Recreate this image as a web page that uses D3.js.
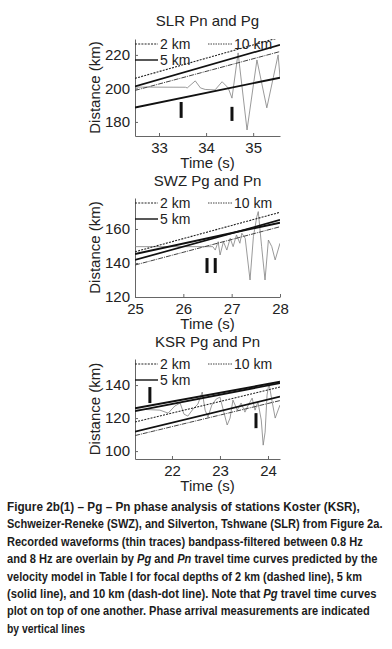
<!DOCTYPE html>
<html>
<head>
<meta charset="utf-8">
<script src="https://cdn.jsdelivr.net/npm/d3@7"></script>
<style>
  body { margin: 0; background: #fff; }
  svg { display: block; }
</style>
</head>
<body>
<div id="chart"></div>
<script>
// ---------- data ----------
// SLR
const slrXTicks = [33, 34, 35];
const slrYTicks = [180, 200, 220];
const slrXDomain = [32.49, 35.57];
const slrYDomain = [171.6, 229.5];
const slrTrace = [
  [32.49, 200.8], [33.56, 200.7], [33.60, 200.3], [33.77, 204.5], [33.88, 200.3],
  [33.98, 199.4], [34.19, 199.1], [34.34, 204.0], [34.47, 200.3], [34.55, 194.2],
  [34.68, 221.2], [34.87, 175.2], [35.08, 217.0], [35.29, 188.4], [35.53, 220.0],
  [35.57, 206.8]
];
const slrPn2 = [[32.49, 206.0], [35.57, 230.5]];
const slrPn5 = [[32.49, 201.2], [35.57, 226.0]];
const slrPn10 = [[32.49, 198.8], [35.57, 222.0]];
const slrPg = [[32.49, 188.6], [35.57, 206.4]];
const slrPicks = [[33.47, 182.4, 191.9], [34.55, 180.6, 189.0]];

// SWZ
const swzXTicks = [25, 26, 27, 28];
const swzYTicks = [120, 140, 160];
const swzXDomain = [25, 28];
const swzYDomain = [120, 178.2];
const swzTrace = [
  [25.00, 149.6], [26.61, 149.6], [26.66, 147.6], [26.72, 152.5], [26.76, 144.7],
  [26.83, 152.5], [26.90, 147.6], [26.97, 154.5], [27.03, 149.6], [27.10, 156.5],
  [27.17, 151.6], [27.21, 157.5], [27.28, 154.5], [27.38, 130.0], [27.45, 155.5],
  [27.52, 167.2], [27.55, 170.2], [27.62, 149.6], [27.69, 130.0], [27.76, 153.5],
  [27.83, 149.6], [27.90, 141.8], [28.00, 151.6]
];
const swzPn2 = [[25, 146.6], [28, 169.8]];
const swzPn5 = [[25, 141.8], [28, 165.3]];
const swzPn10 = [[25, 138.8], [28, 161.3]];
const swzPg = [[25, 145.3], [28, 163.7]];
const swzPicks = [[26.49, 134.1, 142.9], [26.66, 134.1, 142.9]];

// KSR
const ksrXTicks = [22, 23, 24];
const ksrYTicks = [100, 120, 140];
const ksrXDomain = [21.23, 24.25];
const ksrYDomain = [95.2, 155.8];
const ksrTrace = [
  [21.23, 125.5], [21.75, 124.8], [21.92, 123.0], [22.06, 127.3], [22.17, 129.1],
  [22.25, 122.4], [22.33, 121.2], [22.44, 125.5], [22.54, 128.5], [22.63, 135.8],
  [22.69, 124.8], [22.75, 120.6], [22.83, 127.9], [22.92, 131.5], [23.00, 132.7],
  [23.08, 123.6], [23.15, 115.8], [23.21, 120.0], [23.27, 130.9], [23.36, 124.8],
  [23.44, 129.1], [23.52, 123.6], [23.58, 127.3], [23.67, 132.1], [23.73, 124.8],
  [23.79, 129.7], [23.86, 118.8], [23.90, 103.6], [23.94, 111.5], [23.98, 133.9],
  [24.02, 141.2], [24.08, 130.9], [24.15, 120.0], [24.21, 124.8], [24.25, 127.9]
];
const ksrPn2 = [[21.23, 117.6], [24.25, 138.8]];
const ksrPn5 = [[21.23, 111.8], [24.25, 133.0]];
const ksrPn10 = [[21.23, 109.4], [24.25, 130.6]];
const ksrPg = [[21.23, 125.9], [24.25, 142.0]];
const ksrPg5 = [[21.23, 124.2], [24.25, 141.2]];
const ksrPicks = [[21.54, 129.1, 138.8], [23.75, 113.9, 123.0]];

const legendLabels = ["2 km", "5 km", "10 km"];

const captionLines = [
  [["Figure 2b(1) – Pg – Pn phase analysis of stations Koster (KSR),", false]],
  [["Schweizer-Reneke (SWZ), and Silverton, Tshwane (SLR) from Figure 2a.", false]],
  [["Recorded waveforms (thin traces) bandpass-filtered between 0.8 Hz", false]],
  [["and 8 Hz are overlain by ", false], ["Pg", true], [" and ", false], ["Pn", true],
   [" travel time curves predicted by the", false]],
  [["velocity model in Table I for focal depths of 2 km (dashed line), 5 km", false]],
  [["(solid line), and 10 km (dash-dot line). Note that ", false], ["Pg", true],
   [" travel time curves", false]],
  [["plot on top of one another. Phase arrival measurements are indicated", false]],
  [["by vertical lines", false]]
];

// ---------- layout ----------
const W = 392, H = 649;
const plotLeft = 135, plotRight = 280;
const font = "'Liberation Sans', Arial, Helvetica, sans-serif";
const ink = "#222";

const panels = [
  { title: "SLR Pn and Pg", top: 39, bottom: 136, titleY: 26,
    xDomain: slrXDomain, yDomain: slrYDomain, xTicks: slrXTicks, yTicks: slrYTicks,
    trace: slrTrace, pn2: slrPn2, pn5: slrPn5, pn10: slrPn10, pg: [slrPg], picks: slrPicks },
  { title: "SWZ Pg and Pn", top: 198, bottom: 297, titleY: 186,
    xDomain: swzXDomain, yDomain: swzYDomain, xTicks: swzXTicks, yTicks: swzYTicks,
    trace: swzTrace, pn2: swzPn2, pn5: swzPn5, pn10: swzPn10, pg: [swzPg], picks: swzPicks },
  { title: "KSR Pg and Pn", top: 359, bottom: 459, titleY: 347,
    xDomain: ksrXDomain, yDomain: ksrYDomain, xTicks: ksrXTicks, yTicks: ksrYTicks,
    trace: ksrTrace, pn2: ksrPn2, pn5: ksrPn5, pn10: ksrPn10, pg: [ksrPg, ksrPg5], picks: ksrPicks }
];

const svg = d3.select("#chart").append("svg")
  .attr("width", W)
  .attr("height", H)
  .style("font-family", font);

const lineStyles = {
  pn2:  { width: 1.1, dash: "2,1.2", color: "#222" },
  pn5:  { width: 1.7, dash: null, color: "#111" },
  pn10: { width: 1.0, dash: "5,1,1,1", color: "#444" },
  pg:   { width: 1.9, dash: null, color: "#111" }
};

panels.forEach((p, i) => drawPanel(p, i));

function drawPanel(p, i) {
  const x = d3.scaleLinear().domain(p.xDomain).range([plotLeft, plotRight]);
  const y = d3.scaleLinear().domain(p.yDomain).range([p.bottom, p.top]);
  const g = svg.append("g");

  const clipId = "clip" + i;
  svg.append("clipPath").attr("id", clipId)
    .append("rect")
    .attr("x", plotLeft).attr("y", p.top)
    .attr("width", plotRight - plotLeft).attr("height", p.bottom - p.top);

  // title
  g.append("text")
    .attr("x", (plotLeft + plotRight) / 2)
    .attr("y", p.titleY)
    .attr("text-anchor", "middle")
    .style("font-size", "15px")
    .style("fill", ink)
    .text(p.title);

  // axes (ticks point inward)
  const yAxis = g.append("g")
    .attr("transform", `translate(${plotLeft},0)`)
    .call(d3.axisLeft(y).tickValues(p.yTicks).tickFormat(d3.format("d"))
      .tickSizeInner(-3).tickSizeOuter(0).tickPadding(5));
  const xAxis = g.append("g")
    .attr("transform", `translate(0,${p.bottom})`)
    .call(d3.axisBottom(x).tickValues(p.xTicks).tickFormat(d3.format("d"))
      .tickSizeInner(-3).tickSizeOuter(0).tickPadding(6));
  [xAxis, yAxis].forEach(a => {
    a.select(".domain").attr("stroke", "#666");
    a.selectAll(".tick line").attr("stroke", "#666");
    a.selectAll(".tick text")
      .style("font-size", "15px")
      .style("font-family", font)
      .attr("fill", ink);
  });

  g.append("text")
    .attr("x", (plotLeft + plotRight) / 2)
    .attr("y", p.bottom + 32)
    .attr("text-anchor", "middle")
    .style("font-size", "15px")
    .style("fill", ink)
    .text("Time (s)");

  g.append("text")
    .attr("transform", `translate(100,${(p.top + p.bottom) / 2}) rotate(-90)`)
    .attr("text-anchor", "middle")
    .style("font-size", "15px")
    .style("fill", ink)
    .text("Distance (km)");

  const plot = g.append("g").attr("clip-path", `url(#${clipId})`);
  const line = d3.line().x(d => x(d[0])).y(d => y(d[1]));

  // waveform
  plot.append("path")
    .datum(p.trace)
    .attr("fill", "none")
    .attr("stroke", "#808080")
    .attr("stroke-width", 0.8)
    .attr("d", line);

  // travel time curves
  const curves = [["pn10", p.pn10], ["pn2", p.pn2], ["pn5", p.pn5]]
    .concat(p.pg.map(c => ["pg", c]));
  curves.forEach(([k, c]) => {
    const s = lineStyles[k];
    plot.append("path")
      .datum(c)
      .attr("fill", "none")
      .attr("stroke", s.color)
      .attr("stroke-width", s.width)
      .attr("stroke-dasharray", s.dash)
      .attr("d", line);
  });

  // phase picks
  plot.selectAll(".pick")
    .data(p.picks)
    .join("line")
    .attr("x1", d => x(d[0])).attr("x2", d => x(d[0]))
    .attr("y1", d => y(d[1])).attr("y2", d => y(d[2]))
    .attr("stroke", "#111")
    .attr("stroke-width", 3);

  // legend
  const legendPos = [
    { key: "pn2", x0: plotLeft, x1: plotLeft + 23, dy: 5 },
    { key: "pn5", x0: plotLeft, x1: plotLeft + 23, dy: 21 },
    { key: "pn10", x0: plotLeft + 73, x1: plotLeft + 97, dy: 5 }
  ];
  legendLabels.forEach((lab, j) => {
    const lp = legendPos[j];
    const s = lineStyles[lp.key];
    g.append("line")
      .attr("x1", lp.x0).attr("x2", lp.x1)
      .attr("y1", p.top + lp.dy).attr("y2", p.top + lp.dy)
      .attr("stroke", s.color)
      .attr("stroke-width", Math.min(s.width, 1.4))
      .attr("stroke-dasharray", lp.key === "pn10" ? "1.5,1" : s.dash);
    g.append("text")
      .attr("x", lp.x1 + 2)
      .attr("y", p.top + lp.dy)
      .attr("dy", "0.36em")
      .style("font-size", "14px")
      .style("fill", ink)
      .text(lab);
  });
}

// caption
const capStartX = 7, capTop = 511, capStep = 17.4;
const capWidths = [353, 376, 356, 371, 355, 370, 363, 78];
captionLines.forEach((segs, i) => {
  const t = svg.append("text")
    .attr("x", capStartX)
    .attr("y", capTop + i * capStep)
    .style("font-size", "12px")
    .style("font-weight", "bold")
    .style("fill", "#1c1c1c");
  segs.forEach(([s, it]) => {
    t.append("tspan").style("font-style", it ? "italic" : "normal").text(s);
  });
  const w = t.node().getComputedTextLength();
  const k = capWidths[i] / w;
  t.attr("transform", `translate(${capStartX},0) scale(${k},1) translate(${-capStartX},0)`);
});
</script>
</body>
</html>
